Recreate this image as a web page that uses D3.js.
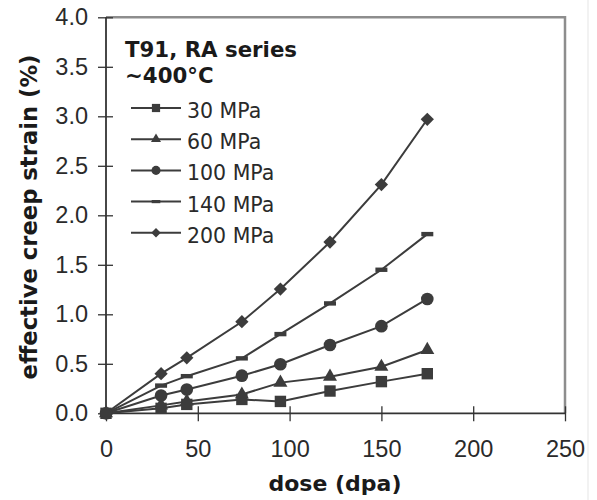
<!DOCTYPE html>
<html>
<head>
<meta charset="utf-8">
<script src="https://cdn.jsdelivr.net/npm/d3@7"></script>
<style>
body { margin: 0; background: #fff; }
svg { display: block; font-family: "DejaVu Sans", Verdana, sans-serif; }
.tick text { fill: #2a2a2a; font-size: 23.5px; }
.axisTitle { font-weight: bold; font-size: 22px; fill: #1a1a1a; }
.yTitle { font-size: 22.7px; }
.legendTitle { font-weight: bold; font-size: 21.3px; fill: #1a1a1a; }
.legendLabel { font-size: 20.5px; fill: #2a2a2a; }
</style>
</head>
<body>
<script>
//data
var doses = [0, 30, 44, 74, 95, 122, 150, 175];
var seriesNames = ["30 MPa", "60 MPa", "100 MPa", "140 MPa", "200 MPa"];
var strain30 = [0, 0.05, 0.09, 0.14, 0.12, 0.225, 0.32, 0.40];
var strain60 = [0, 0.08, 0.12, 0.19, 0.31, 0.37, 0.47, 0.64];
var strain100 = [0, 0.18, 0.24, 0.38, 0.495, 0.69, 0.88, 1.155];
var strain140 = [0, 0.28, 0.375, 0.555, 0.80, 1.11, 1.45, 1.81];
var strain200 = [0, 0.40, 0.56, 0.925, 1.255, 1.73, 2.31, 2.97];
var xTicks = [0, 50, 100, 150, 200, 250];
var yTicks = [0, 0.5, 1.0, 1.5, 2.0, 2.5, 3.0, 3.5, 4.0];
var markerTypes = ["square", "triangle", "circle", "dash", "diamond"];

(function(){
    var width = 597, height = 500;
    var margin = {left: 106, right: 32, top: 17.3, bottom: 86.7};
    var innerW = width - margin.left - margin.right,
        innerH = height - margin.top - margin.bottom;
    var ink = "#3c3c3c";

    var svg = d3.select("body").append("svg")
        .attr("width", width)
        .attr("height", height);

    //faint strip at the right edge of the scan
    svg.append("line")
        .attr("x1", 588).attr("x2", 588)
        .attr("y1", 0).attr("y2", height)
        .attr("stroke", "#eeeeee").attr("stroke-width", 1.5);

    var g = svg.append("g")
        .attr("transform", "translate(" + margin.left + "," + margin.top + ")");

    var x = d3.scaleLinear().domain([0, 250]).range([0, innerW]);
    var y = d3.scaleLinear().domain([0, 4]).range([innerH, 0]);

    //grey frame on top and right
    g.append("path")
        .attr("d", "M0,0H" + innerW + "V" + innerH)
        .attr("fill", "none")
        .attr("stroke", "#8d8d8d")
        .attr("stroke-width", 2.5);

    //axes, ticks cross the line
    var xAxis = g.append("g")
        .attr("transform", "translate(0," + innerH + ")")
        .call(d3.axisBottom(x).tickValues(xTicks).tickSize(8).tickPadding(19)
            .tickFormat(d3.format("d")));
    xAxis.selectAll(".tick line").attr("y1", -7);

    var yAxis = g.append("g")
        .call(d3.axisLeft(y).tickValues(yTicks).tickSize(8).tickPadding(10)
            .tickFormat(d3.format(".1f")));
    yAxis.selectAll(".tick line").attr("x1", 7);

    [xAxis, yAxis].forEach(function(a){
        a.select(".domain").attr("stroke", "#333").attr("stroke-width", 1.8);
        a.selectAll(".tick line").attr("stroke", "#333").attr("stroke-width", 1.3);
        a.selectAll(".tick text").attr("font-family", null).attr("font-size", null);
    });
    xAxis.select(".domain").attr("d", "M0,0H" + innerW);
    yAxis.select(".domain").attr("d", "M0," + innerH + "V0");

    //axis titles
    svg.append("text")
        .attr("class", "axisTitle")
        .attr("x", 335).attr("y", 491)
        .attr("text-anchor", "middle")
        .text("dose (dpa)");

    svg.append("text")
        .attr("class", "axisTitle yTitle")
        .attr("transform", "translate(37,217) rotate(-90)")
        .attr("text-anchor", "middle")
        .text("effective creep strain (%)");

    //marker drawing
    function drawMarker(sel, type, s){
        if (type === "dash") {
            sel.append("rect")
                .attr("x", -6 * s).attr("y", -2.2 * s)
                .attr("width", 12 * s).attr("height", 4.4 * s)
                .attr("fill", ink);
            return;
        }
        var sym, size, rot = 0;
        if (type === "square") { sym = d3.symbolSquare; size = 130; }
        if (type === "triangle") { sym = d3.symbolTriangle; size = 85; }
        if (type === "circle") { sym = d3.symbolCircle; size = 125; }
        if (type === "diamond") { sym = d3.symbolSquare; size = 88; rot = 45; }
        sel.append("path")
            .attr("d", d3.symbol().type(sym).size(size * s * s)())
            .attr("transform", "rotate(" + rot + ")")
            .attr("fill", ink);
    }

    var allSeries = [strain30, strain60, strain100, strain140, strain200];

    var line = d3.line()
        .x(function(d){ return x(d[0]); })
        .y(function(d){ return y(d[1]); });

    allSeries.forEach(function(vals, i){
        var pts = doses.map(function(d, j){ return [d, vals[j]]; });
        g.append("path")
            .datum(pts)
            .attr("d", line)
            .attr("fill", "none")
            .attr("stroke", ink)
            .attr("stroke-width", 2);
    });

    allSeries.forEach(function(vals, i){
        var pts = doses.map(function(d, j){ return [d, vals[j]]; });
        g.selectAll(".m" + i)
            .data(pts)
            .enter()
            .append("g")
            .attr("class", "m" + i)
            .attr("transform", function(d){
                return "translate(" + x(d[0]) + "," + y(d[1]) + ")";
            })
            .each(function(){ drawMarker(d3.select(this), markerTypes[i], 1); });
    });

    //legend
    var legend = svg.append("g");
    legend.append("text")
        .attr("class", "legendTitle")
        .attr("x", 125).attr("y", 56.5)
        .text("T91, RA series");
    legend.append("text")
        .attr("class", "legendTitle")
        .attr("x", 125).attr("y", 83)
        .text("~400°C");

    var items = legend.selectAll(".legendItem")
        .data(seriesNames)
        .enter()
        .append("g")
        .attr("class", "legendItem")
        .attr("transform", function(d, i){
            return "translate(0," + (108 + i * 31.2) + ")";
        });
    items.append("line")
        .attr("x1", 131).attr("x2", 181)
        .attr("stroke", ink).attr("stroke-width", 2);
    items.append("g")
        .attr("transform", "translate(156,0)")
        .each(function(d, i){ drawMarker(d3.select(this), markerTypes[i], 0.72); });
    items.append("text")
        .attr("class", "legendLabel")
        .attr("x", 187).attr("y", 10)
        .text(function(d){ return d; });
})();
</script>
</body>
</html>
